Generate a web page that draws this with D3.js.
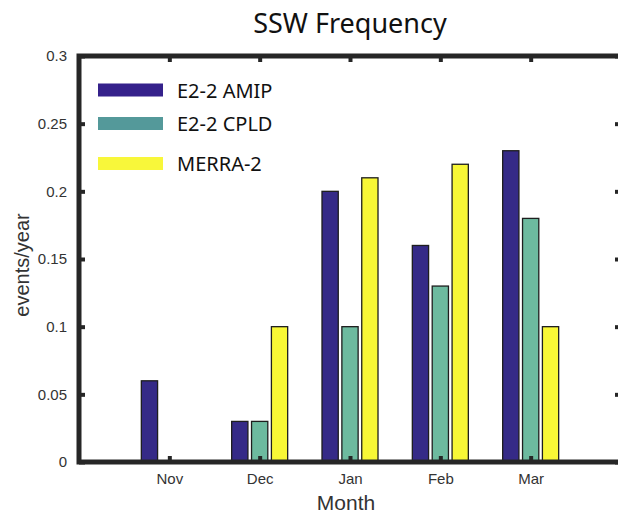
<!DOCTYPE html>
<html>
<head>
<meta charset="utf-8">
<script src="https://cdn.jsdelivr.net/npm/d3@7"></script>
<style>
  html, body { margin: 0; padding: 0; background: #fff; }
  svg { display: block; }
</style>
</head>
<body>
<svg id="chart" width="618" height="515"></svg>
<script>
// Sudden stratospheric warming counts per month, events per year
const months = ["Nov", "Dec", "Jan", "Feb", "Mar"];
const seriesNames = ["E2-2 AMIP", "E2-2 CPLD", "MERRA-2"];
const amip  = [0.06, 0.03, 0.20, 0.16, 0.23];
const cpld  = [0.00, 0.03, 0.10, 0.13, 0.18];
const merra = [0.00, 0.10, 0.21, 0.22, 0.10];
const yTicks = [0, 0.05, 0.1, 0.15, 0.2, 0.25, 0.3];

const barColors    = ["#352a87", "#6dba9f", "#f8f736"];
const legendColors = ["#35218b", "#54999a", "#f8f73a"];
const allSeries = [amip, cpld, merra];

const svg = d3.select("#chart");
svg.append("rect").attr("width", 618).attr("height", 515).attr("fill", "#fff");

const plotL = 79, plotR = 621, plotT = 56, plotB = 462;
const axisColor = "#262626";

// Month positions 1..5 on a 0..6 axis
const x = d3.scaleLinear().domain([0, 6]).range([plotL, plotR]);
const y = d3.scaleLinear().domain([0, 0.3]).range([plotB, plotT]);
const unit = x(1) - x(0);
const barW = 0.18 * unit, step = 0.22 * unit;

// Bars
const g = svg.append("g");
allSeries.forEach((vals, si) => {
  g.selectAll(null)
    .data(vals.map((v, i) => ({ v, i })))
    .enter().append("rect")
    .attr("x", d => x(d.i + 1) + (si - 1) * step - barW / 2)
    .attr("y", d => y(d.v))
    .attr("width", barW)
    .attr("height", d => y(0) - y(d.v))
    .attr("fill", barColors[si])
    .attr("stroke", "#1e1e1e")
    .attr("stroke-width", 1.3);
});

// Frame with inward ticks on all four sides
const tickFont = "'Liberation Sans', Arial, Helvetica, sans-serif";
function styleAxis(sel) {
  sel.select(".domain").remove();
  sel.selectAll(".tick line").attr("stroke", axisColor).attr("stroke-width", 4);
  sel.selectAll(".tick text").attr("fill", "#333").attr("font-size", 15).attr("font-family", tickFont);
}
const tickVals = d3.range(1, 6);

svg.append("g").attr("transform", `translate(0,${plotB})`)
  .call(d3.axisBottom(x).tickValues(tickVals).tickFormat(d => months[d - 1]).tickSizeInner(-6).tickSizeOuter(0).tickPadding(11))
  .call(styleAxis);
svg.append("g").attr("transform", `translate(0,${plotT})`)
  .call(d3.axisTop(x).tickValues(tickVals).tickFormat("").tickSizeInner(-6).tickSizeOuter(0))
  .call(styleAxis);
svg.append("g").attr("transform", `translate(${plotL},0)`)
  .call(d3.axisLeft(y).tickValues(yTicks).tickFormat(d => String(+d.toFixed(2))).tickSizeInner(-6).tickSizeOuter(0).tickPadding(12))
  .call(styleAxis);
svg.append("g").attr("transform", `translate(${plotR},0)`)
  .call(d3.axisRight(y).tickValues(yTicks).tickFormat("").tickSizeInner(-6).tickSizeOuter(0))
  .call(styleAxis);

svg.append("rect")
  .attr("x", plotL).attr("y", plotT)
  .attr("width", plotR - plotL).attr("height", plotB - plotT)
  .attr("fill", "none").attr("stroke", axisColor).attr("stroke-width", 5);

// Axis titles
svg.append("text")
  .attr("x", 346).attr("y", 510)
  .attr("text-anchor", "middle")
  .attr("font-family", tickFont).attr("font-size", 21).attr("fill", "#333")
  .text("Month");
svg.append("text")
  .attr("transform", "translate(29,265) rotate(-90)")
  .attr("text-anchor", "middle")
  .attr("font-family", tickFont).attr("font-size", 20).attr("fill", "#333")
  .text("events/year");

// Title
svg.append("text")
  .attr("x", 350).attr("y", 33)
  .attr("text-anchor", "middle")
  .attr("font-family", "'Noto Sans', 'Open Sans', sans-serif").attr("font-size", 27).attr("fill", "#111")
  .text("SSW Frequency");

// Legend
const legendRows = [90, 123.5, 163.5];
const legend = svg.append("g");
seriesNames.forEach((name, i) => {
  legend.append("rect")
    .attr("x", 98).attr("y", legendRows[i] - 6.5)
    .attr("width", 65).attr("height", 13)
    .attr("fill", legendColors[i]);
  legend.append("text")
    .attr("x", 177).attr("y", legendRows[i] + 7.5)
    .attr("font-family", "'Noto Sans', 'Open Sans', sans-serif").attr("font-size", 20).attr("fill", "#111")
    .text(name);
});
</script>
</body>
</html>
